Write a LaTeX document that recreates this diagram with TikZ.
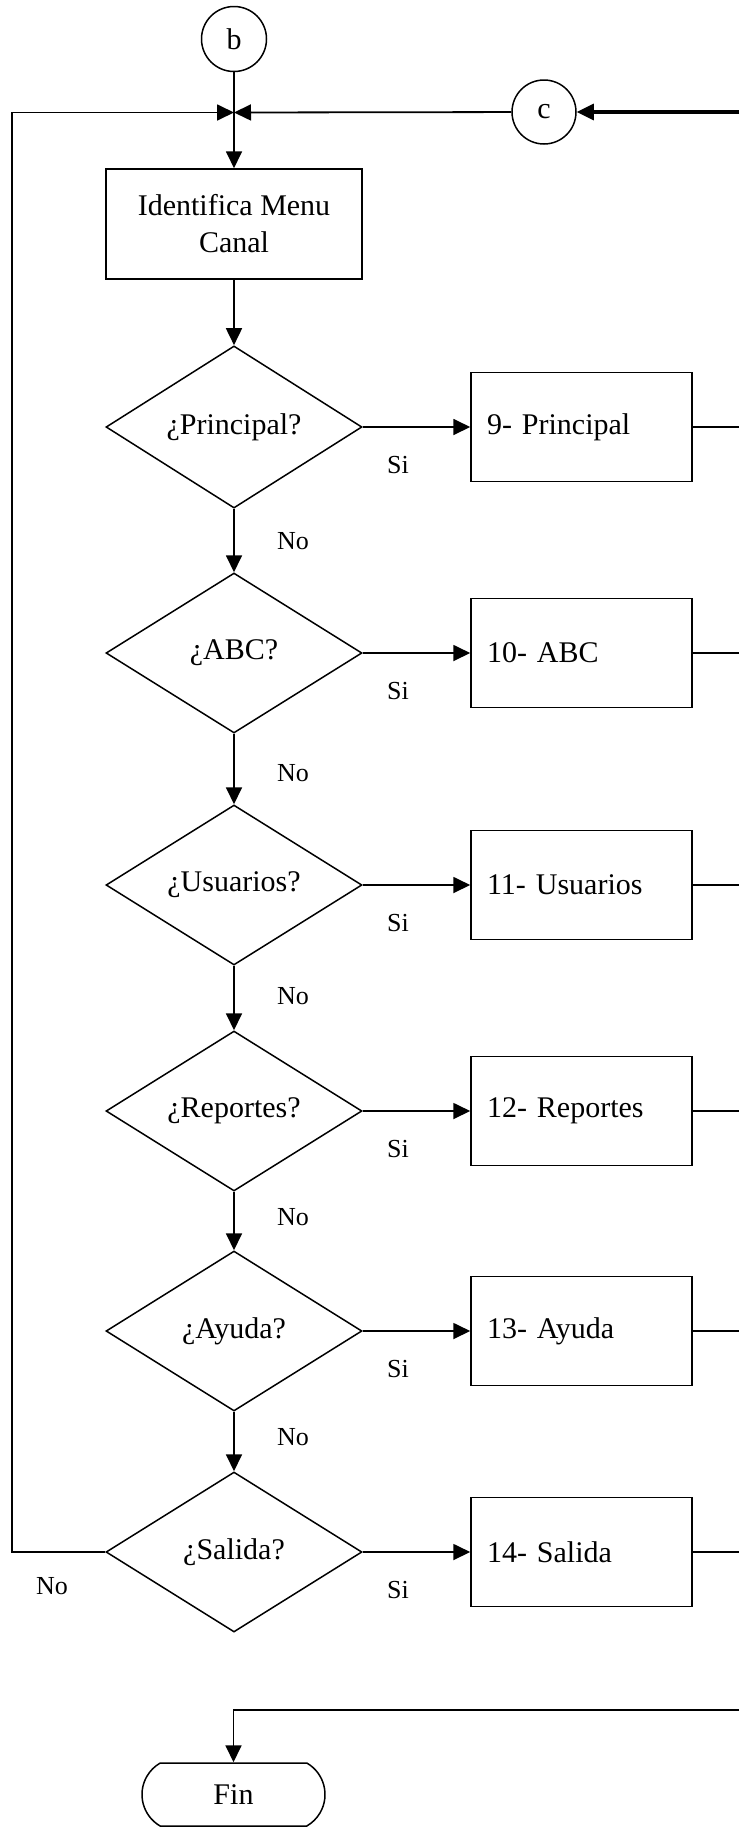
\documentclass[tikz,border=0pt]{standalone}
\usepackage{fontspec}
\setmainfont{Liberation Serif}
\usetikzlibrary{shapes.geometric,shapes.misc,arrows.meta}
\begin{document}
\begin{tikzpicture}[x=1pt,y=-1pt,
  every node/.style={font=\fontsize{30}{37}\selectfont},
  conn/.style={line width=1.8pt},
  arr/.style={conn,-{Triangle[length=17pt,width=16pt]}},
  shp/.style={draw,line width=1.5pt},
  conector/.style={shp,circle,minimum size=65pt,inner sep=0pt},
  decision/.style={shp,diamond,minimum width=256pt,minimum height=160pt,inner sep=0pt},
  proc/.style={shp,rectangle,minimum height=109pt,text width=189pt,inner xsep=16pt,align=left},
  lbl/.style={font=\fontsize{26}{30}\selectfont,inner sep=0pt}]
\useasboundingbox (0,0) rectangle (739,1834);

\node[conector] (b) at (234,39) {b};
\coordinate (J) at (234,112.5);
\coordinate (L) at (12,112.5);
\node[conector,minimum size=64pt] (c) at (544,112) {c};
\coordinate (cin) at (739,112);
\node[shp,minimum width=256pt,minimum height=110pt,align=center] (id) at (234,224) {Identifica Menu\\Canal};

\node[decision] (d1) at (234,427) {¿Principal?};
\node[decision] (d2) at (234,653) {¿ABC?};
\node[decision] (d3) at (234,885) {¿Usuarios?};
\node[decision] (d4) at (234,1111) {¿Reportes?};
\node[decision] (d5) at (234,1331) {¿Ayuda?};
\node[decision] (d6) at (234,1552) {¿Salida?};

\node[proc] (p1) at (581.5,427) {9- Principal};
\node[proc] (p2) at (581.5,653) {10- ABC};
\node[proc] (p3) at (581.5,885) {11- Usuarios};
\node[proc] (p4) at (581.5,1111) {12- Reportes};
\node[proc] (p5) at (581.5,1331) {13- Ayuda};
\node[proc] (p6) at (581.5,1552) {14- Salida};

\node[shp,rounded rectangle,rounded rectangle arc length=120,minimum width=183pt,minimum height=63pt,inner sep=0pt] (fin) at (233.5,1794.5) {Fin};
\coordinate (bin) at (739,1710);

% top connectors
\draw[conn] (b) -- (J);
\draw[arr] (J) -- (id);
\draw[arr] (c) -- (J);
\draw[line width=3.2pt,-{Triangle[length=17pt,width=16pt]}] (cin) -- (c);
\draw[arr] (id) -- (d1);

% vertical No arrows
\draw[arr] (d1) -- (d2);
\draw[arr] (d2) -- (d3);
\draw[arr] (d3) -- (d4);
\draw[arr] (d4) -- (d5);
\draw[arr] (d5) -- (d6);

% Si arrows
\foreach \i in {1,...,6}{
  \draw[arr] (d\i.east) -- (p\i.west);
  \draw[conn] (p\i.east) -- (p\i.east -| cin);
}

% loop back
\draw[arr] (d6.west) -| (L) -- (J);

% to Fin
\draw[arr] (bin) -| (fin);

% labels
\node[lbl] at (398,465) {Si};
\node[lbl] at (398,691) {Si};
\node[lbl] at (398,923) {Si};
\node[lbl] at (398,1149) {Si};
\node[lbl] at (398,1369) {Si};
\node[lbl] at (398,1590) {Si};

\node[lbl] at (293,541) {No};
\node[lbl] at (293,773) {No};
\node[lbl] at (293,996) {No};
\node[lbl] at (293,1217) {No};
\node[lbl] at (293,1437) {No};
\node[lbl] at (52,1586) {No};
\end{tikzpicture}
\end{document}
